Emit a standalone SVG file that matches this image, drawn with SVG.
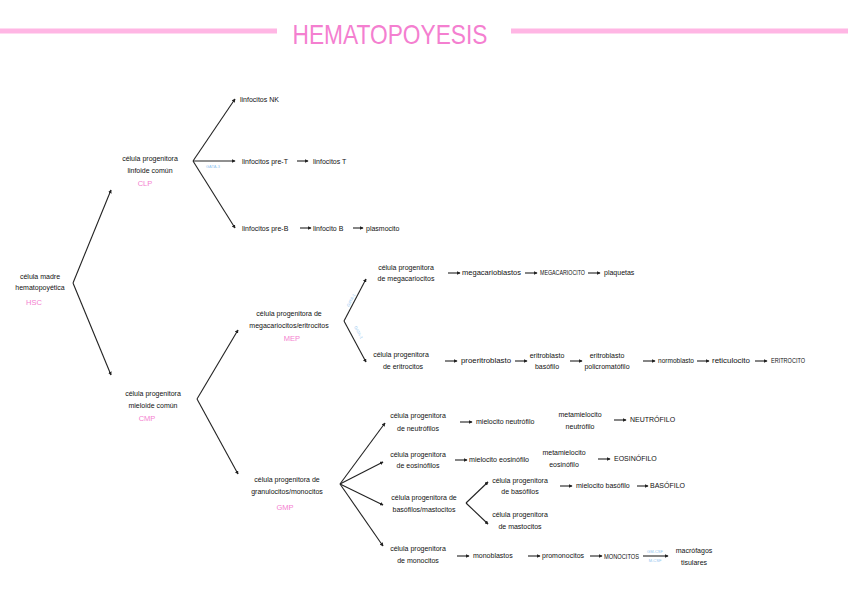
<svg xmlns="http://www.w3.org/2000/svg" width="848" height="599" viewBox="0 0 848 599">
<defs>
<marker id="ah" viewBox="0 0 6 6" refX="5" refY="3" markerWidth="3.5" markerHeight="3.5" orient="auto"><path d="M0,0 L6,3 L0,6 z" fill="#222"/></marker>
<style>
text{font-family:"Liberation Sans",Arial,sans-serif;font-size:7px;fill:#111}
.c{text-anchor:middle}
.p{fill:#f47fd0;font-size:7.5px}
.b{fill:#8fc4ef;font-size:4px}
.t{fill:#f47fd0;font-size:28px;text-anchor:middle}
line{stroke:#222;stroke-width:1.1;marker-end:url(#ah)}
.bar{stroke:#ffb6e4;stroke-width:5;marker-end:none}
</style>
</defs>
<rect width="848" height="599" fill="#fff"/>
<line class="bar" x1="0" y1="31" x2="277" y2="31"/>
<line class="bar" x1="511" y1="31" x2="848" y2="31"/>
<text class="t" x="390" y="44" textLength="195" lengthAdjust="spacingAndGlyphs">HEMATOPOYESIS</text>
<g id="connectors">
<line x1="73" y1="283" x2="111" y2="190"/>
<line x1="73" y1="283" x2="111" y2="375"/>
<line x1="193" y1="161" x2="235" y2="99"/>
<line x1="193" y1="161" x2="235" y2="161"/>
<line x1="193" y1="161" x2="235" y2="228"/>
<line x1="297" y1="161" x2="308" y2="161"/>
<line x1="300" y1="228" x2="311" y2="228"/>
<line x1="353" y1="228" x2="363" y2="228"/>
<line x1="197" y1="399" x2="238" y2="330"/>
<line x1="197" y1="399" x2="238" y2="474"/>
<line x1="344" y1="321" x2="366" y2="279"/>
<line x1="344" y1="321" x2="366" y2="362"/>
<line x1="448" y1="273" x2="460" y2="273"/>
<line x1="525" y1="273" x2="537" y2="273"/>
<line x1="588" y1="273" x2="600" y2="273"/>
<line x1="445" y1="361" x2="457" y2="361"/>
<line x1="515" y1="361" x2="527" y2="361"/>
<line x1="570" y1="361" x2="582" y2="361"/>
<line x1="643" y1="361" x2="655" y2="361"/>
<line x1="697" y1="361" x2="709" y2="361"/>
<line x1="755" y1="361" x2="767" y2="361"/>
<line x1="340" y1="484" x2="385" y2="423"/>
<line x1="340" y1="484" x2="383" y2="462"/>
<line x1="340" y1="484" x2="383" y2="505"/>
<line x1="340" y1="484" x2="383" y2="546"/>
<line x1="460" y1="422" x2="472" y2="422"/>
<line x1="614" y1="420" x2="626" y2="420"/>
<line x1="455" y1="460" x2="467" y2="460"/>
<line x1="598" y1="459" x2="610" y2="459"/>
<line x1="466" y1="503" x2="488" y2="482"/>
<line x1="466" y1="503" x2="488" y2="524"/>
<line x1="560" y1="486" x2="572" y2="486"/>
<line x1="637" y1="486" x2="648" y2="486"/>
<line x1="457" y1="556" x2="469" y2="556"/>
<line x1="528" y1="556" x2="540" y2="556"/>
<line x1="590" y1="556" x2="602" y2="556"/>
<line x1="643" y1="556" x2="668" y2="556"/>
<text class="b" x="206" y="168">GATA-3</text>
<text class="b" x="349" y="307" transform="rotate(-62 349 307)">GATA-1</text>
<text class="b" x="354" y="327" transform="rotate(62 354 327)">GATA-1</text>
<text class="b c" x="655" y="553">GM-CSF</text>
<text class="b c" x="655" y="562">M-CSF</text>
</g>
<g id="hsc"><text class="c" x="40" y="279">célula madre</text><text class="c" x="40" y="290">hematopoyética</text><text class="p c" x="34" y="305">HSC</text></g>
<g id="clp"><text class="c" x="150" y="161">célula progenitora</text><text class="c" x="150" y="173">linfoide común</text><text class="p c" x="145" y="186">CLP</text></g>
<g id="nk"><text x="240" y="102">linfocitos NK</text></g>
<g id="pret"><text x="242" y="164">linfocitos pre-T</text></g>
<g id="lt"><text x="313" y="164">linfocitos T</text></g>
<g id="preb"><text x="242" y="231">linfocitos pre-B</text></g>
<g id="lb"><text x="313" y="231">linfocito B</text></g>
<g id="plasma"><text x="366" y="231">plasmocito</text></g>
<g id="cmp"><text class="c" x="153" y="396">célula progenitora</text><text class="c" x="153" y="408">mieloide común</text><text class="p c" x="147" y="421">CMP</text></g>
<g id="mep"><text class="c" x="289" y="316">célula progenitora de</text><text class="c" x="289" y="328">megacariocitos/eritrocitos</text><text class="p c" x="292" y="341">MEP</text></g>
<g id="megp"><text class="c" x="406" y="270">célula progenitora</text><text class="c" x="406" y="281">de megacariocitos</text></g>
<g id="megb"><text x="462" y="275" textLength="59" lengthAdjust="spacingAndGlyphs">megacarioblastos</text></g>
<g id="meg"><text x="540" y="275" textLength="45" lengthAdjust="spacingAndGlyphs">MEGACARIOCITO</text></g>
<g id="plaq"><text x="604" y="275">plaquetas</text></g>
<g id="erip"><text class="c" x="401" y="357">célula progenitora</text><text class="c" x="403" y="369">de eritrocitos</text></g>
<g id="proe"><text x="461" y="363" textLength="50" lengthAdjust="spacingAndGlyphs">proeritroblasto</text></g>
<g id="ebas"><text class="c" x="547" y="358">eritroblasto</text><text class="c" x="547" y="369">basófilo</text></g>
<g id="epol"><text class="c" x="607" y="358">eritroblasto</text><text class="c" x="607" y="369">policromatófilo</text></g>
<g id="normo"><text x="658" y="363" textLength="36" lengthAdjust="spacingAndGlyphs">normoblasto</text></g>
<g id="reti"><text x="712" y="363" textLength="38" lengthAdjust="spacingAndGlyphs">reticulocito</text></g>
<g id="eri"><text x="771" y="363" textLength="34" lengthAdjust="spacingAndGlyphs">ERITROCITO</text></g>
<g id="gmp"><text class="c" x="287" y="482">célula progenitora de</text><text class="c" x="287" y="494">granulocitos/monocitos</text><text class="p c" x="285" y="510">GMP</text></g>
<g id="neup"><text class="c" x="418" y="418">célula progenitora</text><text class="c" x="418" y="431">de neutrófilos</text></g>
<g id="mneu"><text x="476" y="424">mielocito neutrófilo</text></g>
<g id="mmneu"><text class="c" x="580" y="417">metamielocito</text><text class="c" x="580" y="429">neutrófilo</text></g>
<g id="neu"><text x="630" y="422">NEUTRÓFILO</text></g>
<g id="eosp"><text class="c" x="418" y="457">célula progenitora</text><text class="c" x="418" y="468">de eosinófilos</text></g>
<g id="meos"><text x="469" y="462" textLength="60" lengthAdjust="spacingAndGlyphs">mielocito eosinófilo</text></g>
<g id="mmeos"><text class="c" x="564" y="455">metamielocito</text><text class="c" x="564" y="467">eosinófilo</text></g>
<g id="eos"><text x="614" y="461">EOSINÓFILO</text></g>
<g id="bmp"><text class="c" x="424" y="500">célula progenitora de</text><text class="c" x="424" y="512">basófilos/mastocitos</text></g>
<g id="basp"><text class="c" x="520" y="483">célula progenitora</text><text class="c" x="520" y="494">de basófilos</text></g>
<g id="mbas"><text x="576" y="488">mielocito basófilo</text></g>
<g id="bas"><text x="650" y="488">BASÓFILO</text></g>
<g id="masp"><text class="c" x="520" y="517">célula progenitora</text><text class="c" x="520" y="529">de mastocitos</text></g>
<g id="monp"><text class="c" x="418" y="551">célula progenitora</text><text class="c" x="418" y="563">de monocitos</text></g>
<g id="monob"><text x="473" y="558">monoblastos</text></g>
<g id="promo"><text x="542" y="558">promonocitos</text></g>
<g id="mono"><text x="604" y="559" textLength="35" lengthAdjust="spacingAndGlyphs">MONOCITOS</text></g>
<g id="macro"><text class="c" x="694" y="553">macrófagos</text><text class="c" x="694" y="565">tisulares</text></g>
</svg>
